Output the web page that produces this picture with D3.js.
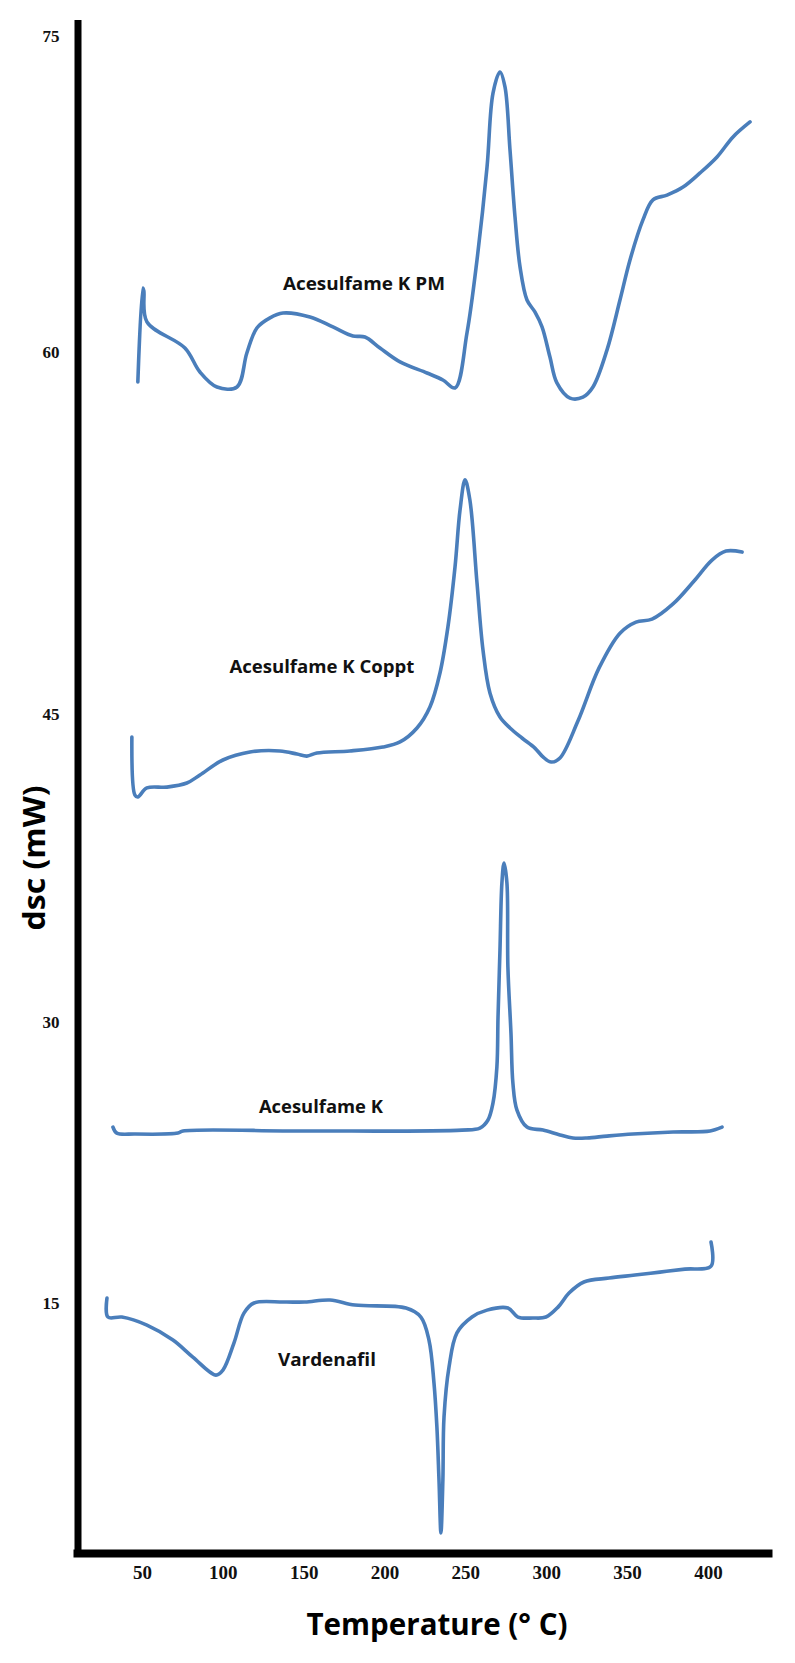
<!DOCTYPE html>
<html>
<head>
<meta charset="utf-8">
<script src="https://cdn.jsdelivr.net/npm/d3@7"></script>
<style>
  body { margin: 0; background: #fff; }
  svg { display: block; }
</style>
</head>
<body>
<svg></svg>
<script>
// ---- data (temperature in °C, dsc in mW) ----
const pmTemp = [47.5, 50.6, 51.2, 53.1, 76.6, 85.9, 96.4, 108.8, 114.9, 121.1, 129.2, 137.2, 153.9, 168.1, 180.5, 187.9, 197.2, 209.6, 226.3, 236.1, 243.6, 251.0, 257.2, 263.4, 267.1, 271.4, 274.5, 277.6, 280.7, 283.8, 288.1, 293.0, 297.4, 302.3, 306.6, 314.7, 322.7, 328.9, 337.6, 345.6, 351.8, 359.8, 366.0, 374.7, 384.6, 395.1, 405.6, 415.5, 426.0]
const pmDsc  = [58.76, 63.04, 62.9, 61.43, 60.19, 59.17, 58.55, 58.55, 59.96, 61.14, 61.62, 61.85, 61.66, 61.19, 60.76, 60.71, 60.19, 59.59, 59.13, 58.84, 58.51, 60.90, 64.37, 68.78, 72.29, 73.29, 72.58, 69.59, 66.41, 64.04, 62.47, 61.90, 61.19, 59.79, 58.72, 58.09, 58.13, 58.55, 60.10, 62.47, 64.37, 66.27, 67.22, 67.45, 67.83, 68.50, 69.26, 70.21, 70.92]

const copptTemp = [43.8, 45.7, 47.5, 53.1, 65.5, 77.8, 85.9, 100.1, 116.8, 135.3, 145.9, 152.0, 158.2, 178.6, 199.0, 209.6, 220.1, 228.1, 234.3, 239.2, 243.6, 246.7, 249.8, 252.8, 257.2, 260.9, 265.2, 271.4, 277.6, 285.0, 293.0, 298.0, 303.0, 308.5, 319.6, 332.6, 345.6, 355.5, 365.4, 378.4, 391.4, 402.5, 411.2, 421.1]
const copptDsc  = [43.88, 41.05, 40.96, 41.40, 41.44, 41.64, 42.03, 42.76, 43.15, 43.20, 43.05, 42.95, 43.10, 43.20, 43.39, 43.64, 44.32, 45.29, 46.70, 48.60, 51.09, 53.45, 54.70, 53.87, 50.43, 47.65, 45.87, 44.85, 44.32, 43.83, 43.34, 42.91, 42.66, 42.86, 44.66, 46.90, 48.35, 48.81, 48.93, 49.56, 50.51, 51.38, 51.75, 51.71]

const akTemp = [32.1, 34.5, 45.7, 72.3, 75.4, 150.8, 247.9, 259.0, 264.0, 267.1, 269.5, 270.2, 271.4, 272.6, 273.9, 275.7, 276.3, 278.2, 279.4, 281.9, 288.1, 298.0, 308.5, 316.5, 325.2, 337.6, 353.6, 378.4, 401.3, 408.7]
const akDsc  = [24.39, 24.07, 24.02, 24.07, 24.18, 24.18, 24.23, 24.34, 24.77, 25.68, 27.60, 30.24, 33.50, 36.77, 37.74, 36.77, 32.68, 29.41, 26.74, 25.30, 24.39, 24.23, 23.97, 23.81, 23.81, 23.91, 24.02, 24.13, 24.18, 24.39]

const vardTemp = [28.4, 29.0, 37.6, 53.1, 69.2, 81.5, 95.8, 100.1, 106.9, 113.1, 119.3, 137.8, 150.8, 166.3, 181.7, 213.3, 222.5, 227.5, 230.6, 232.4, 233.7, 234.9, 236.1, 236.8, 239.9, 244.8, 254.1, 263.4, 276.3, 282.5, 291.8, 299.8, 307.3, 314.1, 323.3, 338.8, 354.9, 370.3, 385.8, 401.9, 401.9]
const vardDsc  = [15.26, 14.25, 14.25, 13.82, 13.02, 12.11, 11.15, 11.42, 12.86, 14.46, 15.00, 15.05, 15.05, 15.16, 14.89, 14.73, 14.25, 13.02, 10.73, 8.38, 5.55, 2.72, 5.55, 8.91, 11.58, 13.40, 14.25, 14.62, 14.73, 14.25, 14.20, 14.25, 14.78, 15.53, 16.12, 16.33, 16.49, 16.65, 16.81, 16.97, 18.25]

const seriesNames = ['Acesulfame K PM', 'Acesulfame K Coppt', 'Acesulfame K', 'Vardenafil']
// where each name sits, in chart units [temperature, dsc]
const nameAt = [[187.3, 62.94], [161.3, 46.70], [160.7, 25.14], [164.4, 11.63]]
const nameWidth = [162, 185, 124, 98]

const xTicks = [50, 100, 150, 200, 250, 300, 350, 400]
const yTicks = [75, 60, 45, 30, 15]

// ---- drawing ----
const width = 795, height = 1663
const blue = '#4a7ebb'

const svg = d3.select('svg').attr('width', width).attr('height', height)

const x = d3.scaleLinear().domain([7.4, 439.6]).range([73, 772])
// the printed axis is not evenly spaced, so the scale is piecewise
const y = d3.scaleLinear()
  .domain([75.62, 75, 60, 45, 30, 15, 1.65])
  .range([23, 36, 352, 714, 1022, 1303, 1553])

const series = [
  pmTemp.map((t, i) => [t, pmDsc[i]]),
  copptTemp.map((t, i) => [t, copptDsc[i]]),
  akTemp.map((t, i) => [t, akDsc[i]]),
  vardTemp.map((t, i) => [t, vardDsc[i]])
]

const line = d3.line()
  .curve(d3.curveCatmullRom.alpha(0.5))
  .x(d => x(d[0]))
  .y(d => y(d[1]))

svg.append('g').selectAll('path')
  .data(series)
  .enter()
    .append('path')
    .attr('d', line)
    .attr('fill', 'none')
    .attr('stroke', blue)
    .attr('stroke-width', 3.6)
    .attr('stroke-linejoin', 'round')
    .attr('stroke-linecap', 'round')

svg.append('g').selectAll('text')
  .data(seriesNames)
  .enter()
    .append('text')
    .attr('x', (d, i) => x(nameAt[i][0]))
    .attr('y', (d, i) => y(nameAt[i][1]))
    .attr('text-anchor', 'middle')
    .attr('textLength', (d, i) => nameWidth[i])
    .attr('lengthAdjust', 'spacingAndGlyphs')
    .style('font', 'bold 18px "Open Sans", sans-serif')
    .attr('fill', '#111')
    .text(d => d)

// axes
const xAxis = svg.append('g')
  .attr('transform', 'translate(0,1553)')
  .call(d3.axisBottom(x).tickValues(xTicks).tickSize(0).tickPadding(13))
xAxis.select('.domain').attr('stroke', '#000').attr('stroke-width', 8)
xAxis.selectAll('text')
  .style('font', 'bold 19px "Liberation Serif", serif')
  .attr('fill', '#111')

const yAxis = svg.append('g')
  .attr('transform', 'translate(77.5,0)')
  .call(d3.axisLeft(y).tickValues(yTicks).tickSize(0).tickPadding(18))
yAxis.select('.domain').attr('stroke', '#000').attr('stroke-width', 7)
  .attr('stroke-linecap', 'square')
yAxis.selectAll('text')
  .style('font', 'bold 17px "Liberation Serif", serif')
  .attr('fill', '#111')

svg.append('text')
  .attr('x', 437)
  .attr('y', 1635)
  .attr('text-anchor', 'middle')
  .attr('textLength', 261)
  .attr('lengthAdjust', 'spacingAndGlyphs')
  .style('font', 'bold 31px "Open Sans", sans-serif')
  .text('Temperature (° C)')

svg.append('text')
  .attr('transform', 'translate(45,858) rotate(-90)')
  .attr('text-anchor', 'middle')
  .attr('textLength', 145)
  .attr('lengthAdjust', 'spacingAndGlyphs')
  .style('font', 'bold 30px "Open Sans", sans-serif')
  .text('dsc (mW)')
</script>
</body>
</html>
